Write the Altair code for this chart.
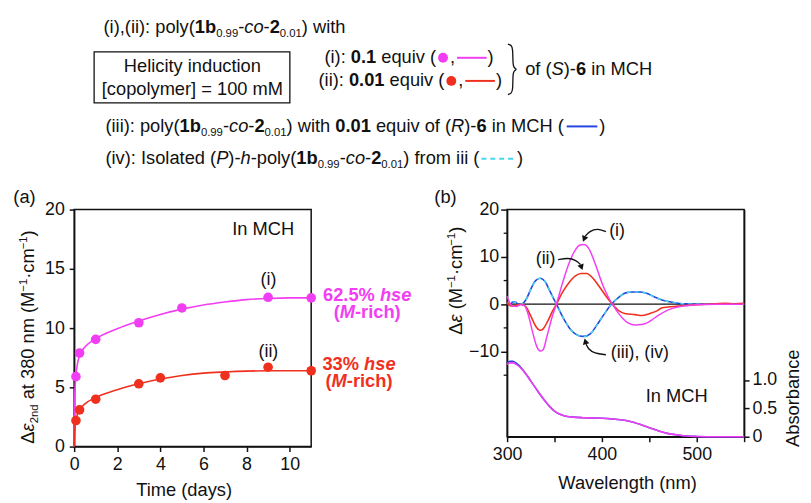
import math
import altair as alt
import pandas as pd

FONT = "Liberation Sans"
MAGENTA = "#f23ef2"
RED = "#f0301e"
BLUE = "#2444e0"
CYAN = "#46d8ea"
BLACK = "#111111"

# ---------------- panel (a) data ----------------
days_i = [0.083, 0.25, 1, 3, 5, 9, 11]
de_i = [5.9, 7.9, 9.05, 10.45, 11.7, 12.6, 12.55]
days_ii = [0.083, 0.25, 1, 3, 4, 7, 9, 11]
de_ii = [2.2, 3.1, 4.0, 5.3, 5.8, 6.0, 6.7, 6.4]
fit_days = [0, 0.02, 0.08, 0.25, 0.5, 1, 2, 3, 4, 5, 6, 7, 8, 9, 10, 11]
fit_i = [0, 4.0, 6.0, 7.7, 8.4, 9.1, 9.95, 10.6, 11.15, 11.6, 11.95, 12.2, 12.4, 12.5, 12.55, 12.55]
fit_ii = [0, 1.2, 2.2, 3.1, 3.6, 4.15, 4.8, 5.3, 5.7, 6.0, 6.2, 6.3, 6.37, 6.4, 6.4, 6.4]
a_xticks = [0, 2, 4, 6, 8, 10]
a_yticks = [0, 5, 10, 15, 20]

# ---------------- panel (b) data ----------------
wl_iii = [300, 303, 306, 309, 312, 316, 320, 325, 330, 335, 340, 345, 352, 360, 368, 375, 381,
          388, 395, 402, 410, 418, 425, 432, 440, 447, 455, 465, 475, 485, 500, 520, 550]
cd_iii = [0.3, -0.2, 0.5, 0.4, 0.0, 0.1, 1.0, 3.2, 5.0, 5.5, 4.8, 2.8, 0.0, -3.2, -5.6, -6.6, -6.8,
          -6.2, -4.3, -2.2, 0.0, 1.5, 2.4, 2.6, 2.6, 2.3, 1.6, 0.8, 0.4, 0.1, 0.0, 0.0, 0.0]
cd_iv = [0.3, -0.2, 0.5, 0.4, 0.0, 0.1, 1.0, 3.2, 5.0, 5.5, 4.8, 2.8, 0.0, -3.2, -5.6, -6.6, -6.8,
         -6.2, -4.3, -2.2, 0.0, 1.5, 2.4, 2.6, 2.6, 2.3, 1.6, 0.8, 0.4, 0.1, 0.0, 0.0, 0.0]
wl_i = [300, 303, 306, 310, 314, 318, 322, 327, 331, 335, 338, 342, 347, 352, 358, 365, 372, 377,
        381, 386, 393, 400, 406, 411, 416, 422, 428, 435, 442, 447, 452, 460, 470, 480, 490, 500, 520, 550]
cd_i = [1.7, 0.2, -0.4, -0.5, -0.1, -0.2, -2.0, -6.0, -8.8, -9.9, -9.6, -6.8, -3.0, 0.0, 4.2, 8.5,
        11.5, 12.5, 12.6, 11.8, 8.5, 4.5, 1.8, 0.0, -1.5, -3.0, -4.0, -4.4, -4.3, -4.0, -3.4, -2.3,
        -1.2, -0.6, -0.3, -0.1, 0.0, 0.0]
wl_ii = [300, 303, 307, 311, 315, 320, 325, 330, 335, 338, 343, 348, 352, 358, 365, 372, 378, 384,
         390, 397, 404, 411, 418, 425, 435, 442, 450, 458, 463, 470, 480, 490, 500, 510, 520, 530, 540, 550]
cd_ii = [0.5, -0.3, -0.4, -0.1, 0.0, -0.6, -2.5, -4.6, -5.5, -5.2, -3.5, -1.4, 0.0, 2.4, 4.5, 6.0,
         6.5, 6.5, 5.6, 3.8, 1.8, 0.0, -1.4, -2.0, -2.2, -2.4, -2.0, -1.4, -0.8, -0.6, -0.4, -0.2,
         -0.1, 0.0, 0.1, 0.2, 0.1, 0.2]
wl_abs = [300, 303, 306, 310, 315, 320, 325, 330, 335, 340, 345, 350, 355, 360, 370, 380, 390, 400,
          410, 420, 430, 440, 450, 460, 470, 480, 490, 500, 520, 550]
abs_i = [1.27, 1.30, 1.30, 1.27, 1.20, 1.10, 0.98, 0.86, 0.74, 0.63, 0.53, 0.45, 0.40, 0.37, 0.345,
         0.335, 0.33, 0.325, 0.315, 0.30, 0.27, 0.22, 0.16, 0.10, 0.055, 0.03, 0.012, 0.005, 0.0, 0.0]
abs_iii = [1.30, 1.33, 1.33, 1.29, 1.21, 1.10, 0.98, 0.86, 0.74, 0.63, 0.53, 0.45, 0.40, 0.37, 0.345,
           0.335, 0.33, 0.325, 0.315, 0.30, 0.27, 0.22, 0.16, 0.10, 0.055, 0.03, 0.012, 0.005, 0.0, 0.0]
b_xticks = [300, 350, 400, 450, 500, 550]
b_yticks = [-10, 0, 10, 20]
b_yminor = [-15, -5, 5, 15]
abs_ticks = [0, 0.5, 1.0]

# ---------------- geometry ----------------
AX, AY, AW, AH = 73.3, 207.0, 240, 240
BX, BY, BW, BH = 511.7, 207.0, 240, 230
A_DX, A_DY = [0, 11], [0, 20]
B_DX, B_DY, B_DABS = [300, 550], [-28, 20], [0, 4]


def pa(px, py):
    return ((px - AX) / AW * A_DX[1], (AY + AH - py) / AH * A_DY[1])


def pb(px, py):
    return (B_DX[0] + (px - BX) / BW * (B_DX[1] - B_DX[0]),
            B_DY[1] - (py - BY) / BH * (B_DY[1] - B_DY[0]))


# ---------------- rich text layout helpers ----------------
REG = {' ': 278, '!': 278, '%': 889, '(': 333, ')': 333, ',': 278, '-': 333, '.': 278,
       ':': 278, '=': 584, '[': 278, ']': 278, 'A': 667, 'C': 722, 'H': 722, 'I': 278, 'M': 833,
       'P': 667, 'R': 722, 'S': 667, 'T': 611, 'W': 944, 'a': 556, 'b': 556, 'c': 500, 'd': 556,
       'e': 556, 'f': 278, 'g': 556, 'h': 556, 'i': 222, 'l': 222, 'm': 833, 'n': 556, 'o': 556,
       'p': 556, 'q': 556, 'r': 333, 's': 500, 't': 278, 'u': 556, 'v': 500, 'w': 722, 'y': 500,
       '\u0394': 668, '\u03b5': 446, '\u00b7': 278, '\u2212': 584}
BOLD = {' ': 278, '%': 889, '(': 333, ')': 333, '-': 333, '.': 278, 'M': 833,
        'b': 611, 'c': 556, 'e': 556, 'h': 611, 'i': 278, 'r': 389, 's': 556}


def tw(s, bold, fs):
    tab = BOLD if bold else REG
    return sum(tab.get(c, REG.get(c, 556)) for c in s) * fs / 1000.0


def layout(runs, x0, y0, size=18.5, angle=0, color=BLACK, anchor='start'):
    """Lay out styled runs; leading/trailing blanks are advanced over, not drawn
    (the renderer trims them)."""
    items, cum = [], 0.0
    for r in runs:
        if r[0] == '#gap':
            items.append(('gap', cum, r[1], r[2]))
            cum += r[1]
            continue
        text, st = r
        bold, ital = 'b' in st, 'i' in st
        fs, shift = size, 0.0
        if 'd' in st:
            fs, shift = size * 0.62, size * 0.2
        if 'u' in st:
            fs, shift = size * 0.62, -size * 0.38
        core = text.strip(' ')
        lead = len(text) - len(text.lstrip(' '))
        lead_w = tw(' ' * lead, bold, fs)
        w = tw(text, bold, fs)
        if core:
            items.append(('txt', cum + lead_w, w,
                          dict(text=core, bold=bold, italic=ital, fs=fs, shift=shift)))
        cum += w
    off = -cum / 2 if anchor == 'middle' else 0.0
    rows, gaps = [], {}
    for kind, c, w, info in items:
        a = c + off
        if kind == 'gap':
            gaps[info] = (x0 + a, x0 + a + w, y0)
            continue
        if angle == 0:
            px, py = x0 + a, y0 + info['shift']
        else:
            px, py = x0 + info['shift'], y0 - a
        rows.append(dict(px=px, py=py, text=info['text'], fs=info['fs'], ang=angle, col=color,
                         bold=info['bold'], italic=info['italic']))
    return rows, gaps


POLY = [("1b", "b"), ("0.99", "d"), ("-", ""), ("co", "i"), ("-", ""), ("2", "b"), ("0.01", "d")]

rows_a, rows_b = [], []
marks_circ, marks_line, marks_dash = [], [], []

r, g = layout([("(i),(ii): poly(", "")] + POLY + [(") with", "")], 103, 28.3)
rows_a += r
r, g = layout([("Helicity induction", "")], 193, 67.7, anchor='middle')
rows_a += r
r, g = layout([("[copolymer] = 100 mM", "")], 193, 90.7, anchor='middle')
rows_a += r
r, g = layout([("(i): ", ""), ("0.1", "b"), (" equiv (", ""), ("#gap", 14, "c"), (",", ""),
               ("#gap", 33, "l"), (")", "")], 326.7, 58.3)
rows_a += r
marks_circ.append(((g["c"][0] + g["c"][1]) / 2, g["c"][2] - 5, MAGENTA))
marks_line.append((g["l"][0] + 2, g["l"][1] - 1, g["l"][2] - 5, MAGENTA))
r, g = layout([("(ii): ", ""), ("0.01", "b"), (" equiv (", ""), ("#gap", 14, "c"), (",", ""),
               ("#gap", 33, "l"), (")", "")], 320.7, 81.7)
rows_a += r
marks_circ.append(((g["c"][0] + g["c"][1]) / 2, g["c"][2] - 5, RED))
marks_line.append((g["l"][0] + 2, g["l"][1] - 1, g["l"][2] - 5, RED))
r, g = layout([("of (", ""), ("S", "i"), (")-", ""), ("6", "b"), (" in MCH", "")], 530, 71)
rows_a += r
r, g = layout([("(iii): poly(", "")] + POLY + [(") with ", ""), ("0.01", "b"), (" equiv of (", ""),
               ("R", "i"), (")-", ""), ("6", "b"), (" in MCH (", ""), ("#gap", 36, "l"), (")", "")],
              105, 128.3)
rows_a += r
marks_line.append((g["l"][0] + 3, g["l"][1] - 2, g["l"][2] - 5.5, BLUE))
r, g = layout([("(iv): Isolated (", ""), ("P", "i"), (")-", ""), ("h", "i"), ("-poly(", "")] + POLY +
              [(") from iii (", ""), ("#gap", 38, "l"), (")", "")], 105, 161)
rows_a += r
marks_dash.append((g["l"][0] + 2, g["l"][1] - 2, g["l"][2] - 5.5, CYAN))

# panel (a) labels
rows_a += layout([("(a)", "")], 11.7, 200)[0]
rows_a += layout([("\u0394", ""), ("\u03b5", "i"), ("2nd", "d"), (" at 380 nm (M", ""), ("\u22121", "u"),
                  ("\u00b7cm", ""), ("\u22121", "u"), (")", "")], 32.5, 336, angle=270, anchor='middle')[0]
rows_a += layout([("Time (days)", "")], 185, 497, anchor='middle')[0]
rows_a += layout([("In MCH", "")], 233.3, 232.7)[0]
rows_a += layout([("(i)", "")], 270, 283, size=18, anchor='middle')[0]
rows_a += layout([("(ii)", "")], 270, 356.2, size=18, anchor='middle')[0]
rows_a += layout([("62.5% ", "b"), ("hse", "bi")], 370, 299.3, color=MAGENTA, anchor='middle')[0]
rows_a += layout([("(", "b"), ("M", "bi"), ("-rich)", "b")], 370, 316.5, color=MAGENTA, anchor='middle')[0]
rows_a += layout([("33% ", "b"), ("hse", "bi")], 361.7, 369.7, color=RED, anchor='middle')[0]
rows_a += layout([("(", "b"), ("M", "bi"), ("-rich)", "b")], 361.7, 386.5, color=RED, anchor='middle')[0]

# panel (b) labels
rows_b += layout([("(b)", "")], 438, 200.7)[0]
rows_b += layout([("\u0394", ""), ("\u03b5", "i"), (" (M", ""), ("\u22121", "u"), ("\u00b7cm", ""),
                  ("\u22121", "u"), (")", "")], 466, 279, angle=270, anchor='middle')[0]
rows_b += layout([("Absorbance", "")], 807, 398, angle=270, anchor='middle')[0]
rows_b += layout([("Wavelength (nm)", "")], 634, 490, anchor='middle')[0]
rows_b += layout([("In MCH", "")], 652, 402)[0]
rows_b += layout([("(i)", "")], 615, 233.3, size=18)[0]
rows_b += layout([("(ii)", "")], 540.7, 261.8, size=18)[0]
rows_b += layout([("(iii), (iv)", "")], 616.7, 356.8, size=18)[0]

# arrows in panel (b) (page pixel paths -> converted)
arrow_paths = [
    [(611.7, 229.3), (603.3, 226.0), (595.0, 229.0), (590.8, 234.0)],
    [(563.3, 257.7), (573.3, 255.8), (581.7, 258.3), (586.0, 262.7)],
    [(611.7, 354.0), (600.0, 352.7), (594.0, 348.3), (591.7, 343.3)],
]
arrow_tips = [(588.3, 240.0), (588.3, 268.8), (590.0, 337.0)]

# ---------------- encodings ----------------
xa = alt.X('x:Q', scale=alt.Scale(domain=A_DX, nice=False, zero=False),
           axis=alt.Axis(values=a_xticks, title=None, labelFlush=False))
ya = alt.Y('y:Q', scale=alt.Scale(domain=A_DY, nice=False, zero=False),
           axis=alt.Axis(values=a_yticks, title=None, labelPadding=5))
xb = alt.X('x:Q', scale=alt.Scale(domain=B_DX, nice=False, zero=False),
           axis=alt.Axis(values=b_xticks, title=None, labelFlush=False,
                         labelExpr="datum.value % 100 == 0 ? datum.label : ''"))
yb = alt.Y('y:Q', scale=alt.Scale(domain=B_DY, nice=False, zero=False),
           axis=alt.Axis(values=b_yticks, title=None, tickSize=6.5, labelPadding=2))
yabs = alt.Y('y:Q', scale=alt.Scale(domain=B_DABS, nice=False, zero=False),
             axis=alt.Axis(values=abs_ticks, title=None, orient='right', labelPadding=3,
                           labelExpr="datum.value == 0 ? '0' : format(datum.value, '.1f')"))


def text_layers(rows, conv, X, Y):
    df = pd.DataFrame(rows)
    xy = [conv(p, q) for p, q in zip(df.px, df.py)]
    df['x'] = [v[0] for v in xy]
    df['y'] = [v[1] for v in xy]
    out = []
    for (b, i), sub in df.groupby(['bold', 'italic']):
        out.append(alt.Chart(sub[['x', 'y', 'text', 'fs', 'ang', 'col']].reset_index(drop=True)).mark_text(
            align='left', baseline='alphabetic', font=FONT,
            fontWeight='bold' if b else 'normal', fontStyle='italic' if i else 'normal'
        ).encode(x=X, y=Y, text='text:N', size=alt.Size('fs:Q', scale=None),
                 angle=alt.Angle('ang:Q', scale=None), color=alt.Color('col:N', scale=None)))
    return out


def line_df(xs, ys):
    return pd.DataFrame({'x': xs, 'y': ys})


# ---------------- panel (a) ----------------
a_layers = []
a_layers.append(alt.Chart(line_df(fit_days, fit_i)).mark_line(
    interpolate='monotone', color=MAGENTA, strokeWidth=1.6).encode(x=xa, y=ya))
a_layers.append(alt.Chart(line_df(fit_days, fit_ii)).mark_line(
    interpolate='monotone', color=RED, strokeWidth=1.6).encode(x=xa, y=ya))
a_layers.append(alt.Chart(line_df(days_i, de_i)).mark_circle(
    size=95, opacity=1, color=MAGENTA).encode(x=xa, y=ya))
a_layers.append(alt.Chart(line_df(days_ii, de_ii)).mark_circle(
    size=95, opacity=1, color=RED).encode(x=xa, y=ya))

# header box
bx1, by1 = pa(93.5, 47.3)
bx2, by2 = pa(291.7, 99.0)
a_layers.append(alt.Chart(pd.DataFrame({'x': [bx1], 'x2': [bx2], 'y': [by1], 'y2': [by2]})).mark_rect(
    fillOpacity=0, stroke=BLACK, strokeWidth=1.3).encode(x=xa, x2='x2:Q', y=ya, y2='y2:Q'))
# legend-like markers in header
cdf = pd.DataFrame([dict(zip(['x', 'y'], pa(cx, cy)), col=c) for cx, cy, c in marks_circ])
a_layers.append(alt.Chart(cdf).mark_circle(size=100, opacity=1).encode(
    x=xa, y=ya, color=alt.Color('col:N', scale=None)))
ldf = pd.DataFrame([dict(x=pa(x1, y)[0], x2=pa(x2, y)[0], y=pa(x1, y)[1], col=c)
                    for x1, x2, y, c in marks_line])
a_layers.append(alt.Chart(ldf).mark_rule(strokeWidth=2).encode(
    x=xa, x2='x2:Q', y=ya, color=alt.Color('col:N', scale=None)))
ddf = pd.DataFrame([dict(x=pa(x1, y)[0], x2=pa(x2, y)[0], y=pa(x1, y)[1], col=c)
                    for x1, x2, y, c in marks_dash])
a_layers.append(alt.Chart(ddf).mark_rule(strokeWidth=2, strokeDash=[5, 4]).encode(
    x=xa, x2='x2:Q', y=ya, color=alt.Color('col:N', scale=None)))
# curly brace
brace_px = [(512.5, 39.5), (516.0, 40.5), (517.5, 44.0), (517.5, 60.0), (518.5, 63.5), (522.0, 65.0),
            (518.5, 66.5), (517.5, 70.0), (517.5, 86.0), (516.0, 89.5), (512.5, 90.5)]
bdf = pd.DataFrame([dict(zip(['x', 'y'], pa(p, q)), o=k) for k, (p, q) in enumerate(brace_px)])
a_layers.append(alt.Chart(bdf).mark_line(interpolate='basis', color=BLACK, strokeWidth=1.3).encode(
    x=xa, y=ya, order='o:Q'))
a_layers += text_layers(rows_a, pa, xa, ya)
# invisible anchor to fix the top-left corner of the layout
anc = pa(8, 8)
a_layers.append(alt.Chart(pd.DataFrame({'x': [anc[0]], 'y': [anc[1]]})).mark_point(
    size=1, opacity=0, strokeWidth=0).encode(x=xa, y=ya))

panel_a = alt.layer(*a_layers).properties(width=AW, height=AH)

# ---------------- panel (b) ----------------
left = []
left.append(alt.Chart(pd.DataFrame({'y': [0]})).mark_rule(color=BLACK, strokeWidth=1.3).encode(y=yb))
left.append(alt.Chart(pd.DataFrame({'y': b_yminor})).mark_rule(color=BLACK, strokeWidth=1.3).encode(
    y=yb, x=alt.value(-3.5), x2=alt.value(0)))
left.append(alt.Chart(line_df(wl_iii, cd_iii)).mark_line(
    interpolate='monotone', color=BLUE, strokeWidth=1.6).encode(x=xb, y=yb))
left.append(alt.Chart(line_df(wl_iii, cd_iv)).mark_line(
    interpolate='monotone', color=CYAN, strokeWidth=1.4, strokeDash=[4, 4]).encode(x=xb, y=yb))
left.append(alt.Chart(line_df(wl_ii, cd_ii)).mark_line(
    interpolate='monotone', color=RED, strokeWidth=1.6).encode(x=xb, y=yb))
left.append(alt.Chart(line_df(wl_i, cd_i)).mark_line(
    interpolate='monotone', color=MAGENTA, strokeWidth=1.5).encode(x=xb, y=yb))
# arrows
arows, hrows = [], []
for k, (path, tip) in enumerate(zip(arrow_paths, arrow_tips)):
    for j, (p, q) in enumerate(path):
        xx, yy = pb(p, q)
        arows.append(dict(x=xx, y=yy, o=j, grp=k))
    lx, ly = path[-1]
    dx, dy = tip[0] - lx, tip[1] - ly
    n = math.hypot(dx, dy)
    cxp, cyp = tip[0] - 3.5 * dx / n, tip[1] - 3.5 * dy / n
    ang = math.degrees(math.atan2(dx, -dy)) % 360
    xx, yy = pb(cxp, cyp)
    hrows.append(dict(x=xx, y=yy, ang=ang))
left.append(alt.Chart(pd.DataFrame(arows)).mark_line(
    interpolate='basis', color=BLACK, strokeWidth=1.4).encode(
    x=xb, y=yb, order='o:Q', detail='grp:N'))
left.append(alt.Chart(pd.DataFrame(hrows)).mark_point(
    shape='triangle-up', filled=True, color=BLACK, size=45, opacity=1).encode(
    x=xb, y=yb, angle=alt.Angle('ang:Q', scale=None)))
left += text_layers(rows_b, pb, xb, yb)

right = [
    alt.Chart(line_df(wl_abs, abs_iii)).mark_line(
        interpolate='monotone', color=BLUE, strokeWidth=1.6).encode(x=xb, y=yabs),
    alt.Chart(line_df(wl_abs, abs_i)).mark_line(
        interpolate='monotone', color=MAGENTA, strokeWidth=1.6).encode(x=xb, y=yabs),
]

panel_b = alt.layer(alt.layer(*left), alt.layer(*right)).resolve_scale(y='independent').properties(
    width=BW, height=BH)

chart = alt.hconcat(panel_a, panel_b, spacing=BX - AX - AW, bounds='flush').properties(
    padding=0
).configure(font=FONT).configure_view(
    stroke=BLACK, strokeWidth=1.5
).configure_axis(
    domainColor=BLACK, domainWidth=1.5, tickColor=BLACK, tickWidth=1.5, tickSize=5,
    labelFont=FONT, labelFontSize=18, labelColor=BLACK, labelPadding=4, grid=False
)

chart.save("out.html", embed_options={"renderer": "svg", "actions": False})
